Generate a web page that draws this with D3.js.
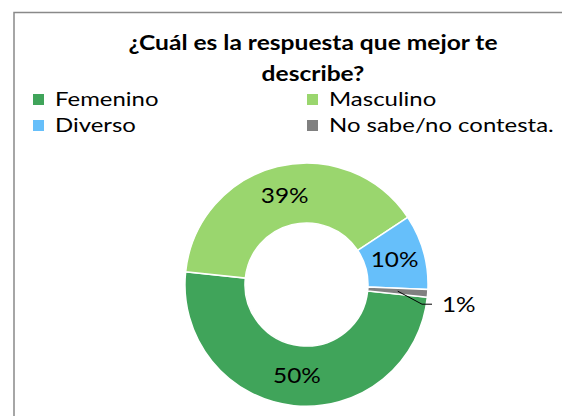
<!DOCTYPE html>
<html>
<head>
<meta charset="utf-8">
<script src="https://cdn.jsdelivr.net/npm/d3@7"></script>
<style>
  body { margin: 0; background: #fff; }
  text { font-family: Lato, "Open Sans", sans-serif; fill: #000; }
</style>
</head>
<body>
<div id="chart"></div>
<script>
// data
var categories = ["Femenino", "Masculino", "Diverso", "No sabe/no contesta."];
var values = [50, 39, 10, 1];
var colors = ["#40A45A", "#9AD66E", "#66BFFA", "#808080"];
var titleLines = ["¿Cuál es la respuesta que mejor te", "describe?"];

var width = 562, height = 416;
var cx = 306.5, cy = 284.5, outerR = 121.5, innerR = 61.5;
var startAngle = 96 * Math.PI / 180;

var svg = d3.select("#chart").append("svg")
  .attr("width", width)
  .attr("height", height);

// text is drawn a bit wider than the font, like the original
function addText(parent, x, y, str, size, sx) {
  return parent.append("text")
    .attr("transform", "translate(" + x + "," + y + ") scale(" + sx + ",1)")
    .style("font-size", size + "px")
    .text(str);
}

// chart frame (only top and left edges are visible)
svg.append("path")
  .attr("d", "M14,416 L14,12.5 L562,12.5")
  .attr("fill", "none")
  .attr("stroke", "#898989")
  .attr("stroke-width", 1.5);

// title
titleLines.forEach(function(d, i){
  addText(svg, 313, 50 + i * 31, d, 21, 1.17)
    .attr("text-anchor", "middle")
    .style("font-weight", "bold");
});

// legend
var legendX = [33, 307], legendY = [99.5, 125.5];
var legend = svg.selectAll(".legend")
  .data(categories)
  .enter().append("g")
  .attr("class", "legend")
  .attr("transform", function(d, i){
    return "translate(" + legendX[i % 2] + "," + legendY[Math.floor(i / 2)] + ")";
  });
legend.append("rect")
  .attr("x", 0).attr("y", -5.5)
  .attr("width", 11).attr("height", 11)
  .attr("fill", function(d, i){ return colors[i]; });
legend.each(function(d){
  addText(d3.select(this), 22, 6, d, 19, 1.26);
});

// donut
var pie = d3.pie()
  .sort(null)
  .startAngle(startAngle)
  .endAngle(startAngle + 2 * Math.PI)
  .value(function(d){ return d; });

var arc = d3.arc().innerRadius(innerR).outerRadius(outerR);
var arcs = pie(values);

var g = svg.append("g").attr("transform", "translate(" + cx + "," + cy + ")");

g.selectAll(".slice")
  .data(arcs)
  .enter().append("path")
  .attr("class", "slice")
  .attr("d", arc)
  .attr("fill", function(d, i){ return colors[i]; })
  .attr("stroke", "#fff")
  .attr("stroke-width", 1.5);

// labels: inside the ring, small slice gets a leader line
var fmt = function(v){ return v + "%"; };
arcs.forEach(function(d, i){
  var c = arc.centroid(d);
  if (d.value >= 5) {
    addText(g, c[0], c[1] + 7.5, fmt(d.value), 21, 1.16)
      .attr("text-anchor", "middle");
  } else {
    var tx = outerR + 14, ty = c[1] + 13;
    g.append("polyline")
      .attr("points", [c, [tx - 20, ty], [tx - 10, ty]].map(function(p){ return p.join(","); }).join(" "))
      .attr("fill", "none")
      .attr("stroke", "#000")
      .attr("stroke-width", 1);
    addText(g, tx, ty + 7.5, fmt(d.value), 21, 1.16);
  }
});
</script>
</body>
</html>
